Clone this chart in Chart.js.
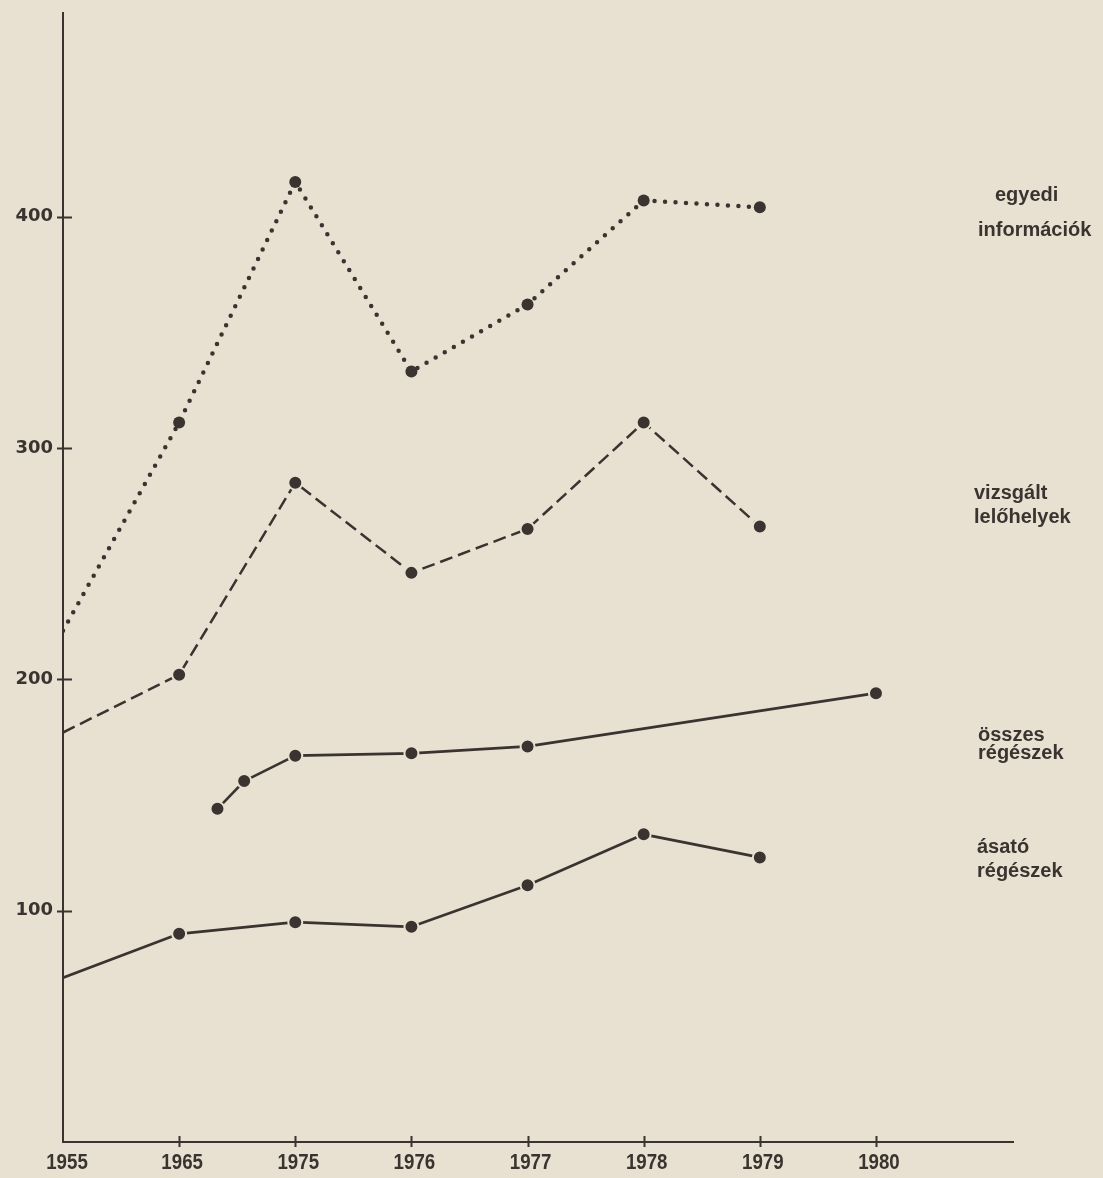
<!DOCTYPE html>
<html lang="hu">
<head>
<meta charset="utf-8">
<title>Régészeti adatok 1955–1980</title>
<script src="https://cdn.jsdelivr.net/npm/chart.js@4/dist/chart.umd.min.js"></script>
<style>
    html, body {
        margin: 0;
        padding: 0;
        background: #e8e1d2;
    }
    #wrap {
        position: relative;
        width: 1103px;
        height: 1178px;
    }
</style>
</head>
<body>
<div id="wrap"><canvas id="archChart"></canvas></div>
<script>
// Tick labels along the bottom (one slot each, 1955 sits on the y axis)
const tickLabels = ['1955', '1965', '1975', '1976', '1977', '1978', '1979', '1980'];
const yTicks = [100, 200, 300, 400];

// egyedi információk (dotted)
const egyediX = [0, 1, 2, 3, 4, 5, 6];
const egyediY = [221, 311, 415, 333, 362, 407, 404];

// vizsgált lelőhelyek (dashed)
const vizsgaltX = [0, 1, 2, 3, 4, 5, 6];
const vizsgaltY = [177, 202, 285, 246, 265, 311, 266];

// összes régészek (solid, starts between 1965 and 1975)
const osszesX = [1.33, 1.56, 2, 3, 4, 7];
const osszesY = [144, 156, 167, 168, 171, 194];

// ásató régészek (solid)
const asatoX = [0, 1, 2, 3, 4, 5, 6];
const asatoY = [71, 90, 95, 93, 111, 133, 123];

const INK = '#3a3330';
const PAPER = '#e8e1d2';

function toPoints(xs, ys) {
    return xs.map((x, i) => ({ x: x, y: ys[i] }));
}

// no marker where a line starts on the axis
function markerRadius(ctx) {
    return ctx.raw && ctx.raw.x === 0 ? 0 : 7;
}

// tick marks crossing the axes, plus the condensed year labels
const axisDecor = {
    id: 'axisDecor',
    afterDraw(chart) {
        const ctx = chart.ctx;
        const xs = chart.scales.x;
        const ys = chart.scales.y;
        const area = chart.chartArea;
        ctx.save();
        ctx.strokeStyle = INK;
        ctx.lineWidth = 2;
        ctx.beginPath();
        yTicks.forEach(v => {
            const y = Math.round(ys.getPixelForValue(v)) + 0.5;
            ctx.moveTo(area.left - 6, y);
            ctx.lineTo(area.left + 9, y);
        });
        tickLabels.forEach((_, i) => {
            if (i === 0) return;
            const x = Math.round(xs.getPixelForValue(i)) + 0.5;
            ctx.moveTo(x, area.bottom - 6);
            ctx.lineTo(x, area.bottom + 5);
        });
        ctx.stroke();

        // year labels, squeezed like the narrow face of the print
        ctx.fillStyle = INK;
        ctx.font = 'bold 22px "Liberation Sans", Arial, sans-serif';
        ctx.textAlign = 'center';
        ctx.textBaseline = 'alphabetic';
        tickLabels.forEach((lab, i) => {
            const x = xs.getPixelForValue(i) + (i === 0 ? 4 : 3);
            ctx.save();
            ctx.translate(x, area.bottom + 27);
            ctx.scale(0.85, 1);
            ctx.fillText(lab, 0, 0);
            ctx.restore();
        });
        ctx.restore();
    }
};

// series names printed at the right edge
const sideLabels = {
    id: 'sideLabels',
    afterDraw(chart) {
        const ctx = chart.ctx;
        const items = [
            { text: 'egyedi', x: 995, y: 201 },
            { text: 'információk', x: 978, y: 236 },
            { text: 'vizsgált', x: 974, y: 499 },
            { text: 'lelőhelyek', x: 974, y: 523 },
            { text: 'összes', x: 978, y: 741 },
            { text: 'régészek', x: 978, y: 759 },
            { text: 'ásató', x: 977, y: 853 },
            { text: 'régészek', x: 977, y: 877 }
        ];
        ctx.save();
        ctx.fillStyle = INK;
        ctx.font = 'bold 20px "Liberation Sans", Arial, sans-serif';
        ctx.textAlign = 'left';
        ctx.textBaseline = 'alphabetic';
        items.forEach(it => ctx.fillText(it.text, it.x, it.y));
        ctx.restore();
    }
};

const canvas = document.getElementById('archChart');
new Chart(canvas.getContext('2d'), {
    type: 'line',
    data: {
        datasets: [
            {
                label: 'egyedi információk',
                data: toPoints(egyediX, egyediY),
                borderColor: INK,
                backgroundColor: INK,
                borderWidth: 4.5,
                borderDash: [0, 10.5],
                borderCapStyle: 'round',
                pointRadius: ctx => (ctx.raw && ctx.raw.x === 0 ? 0 : 6),
                pointBorderWidth: 0,
                pointBackgroundColor: INK
            },
            {
                label: 'vizsgált lelőhelyek',
                data: toPoints(vizsgaltX, vizsgaltY),
                borderColor: INK,
                borderWidth: 2.5,
                borderDash: [13, 6],
                pointRadius: markerRadius,
                pointBorderWidth: 2,
                pointBorderColor: PAPER,
                pointBackgroundColor: INK
            },
            {
                label: 'összes régészek',
                data: toPoints(osszesX, osszesY),
                borderColor: INK,
                borderWidth: 2.7,
                pointRadius: 7,
                pointBorderWidth: 2,
                pointBorderColor: PAPER,
                pointBackgroundColor: INK
            },
            {
                label: 'ásató régészek',
                data: toPoints(asatoX, asatoY),
                borderColor: INK,
                borderWidth: 2.7,
                pointRadius: markerRadius,
                pointBorderWidth: 2,
                pointBorderColor: PAPER,
                pointBackgroundColor: INK
            }
        ]
    },
    options: {
        responsive: true,
        maintainAspectRatio: false,
        animation: false,
        layout: {
            padding: { top: 13, right: 90, left: 0, bottom: 0 }
        },
        elements: {
            line: { tension: 0, borderJoinStyle: 'round', fill: false }
        },
        plugins: {
            legend: { display: false },
            tooltip: { enabled: false }
        },
        scales: {
            x: {
                type: 'linear',
                min: 0,
                max: 8.18,
                afterFit: scale => {
                    scale.height = 36;
                    scale.paddingLeft = 0;
                    scale.paddingRight = 0;
                },
                afterBuildTicks: scale => {
                    scale.ticks = tickLabels.map((_, i) => ({ value: i }));
                },
                grid: { display: true, drawOnChartArea: false, drawTicks: false },
                border: { display: true, color: INK, width: 2 },
                ticks: { display: false }
            },
            y: {
                type: 'linear',
                min: 0,
                max: 488,
                afterFit: scale => {
                    scale.width = 63;
                    // labels stop well short of the ends, no extra room needed
                    scale.paddingTop = 0;
                    scale.paddingBottom = 0;
                },
                afterBuildTicks: scale => {
                    scale.ticks = yTicks.map(v => ({ value: v }));
                },
                grid: { display: true, drawOnChartArea: false, drawTicks: false },
                border: { display: true, color: INK, width: 2 },
                ticks: {
                    padding: 10,
                    color: INK,
                    font: { family: '"DejaVu Sans", sans-serif', size: 18, weight: 'bold' }
                }
            }
        }
    },
    plugins: [axisDecor, sideLabels]
});
</script>
</body>
</html>
